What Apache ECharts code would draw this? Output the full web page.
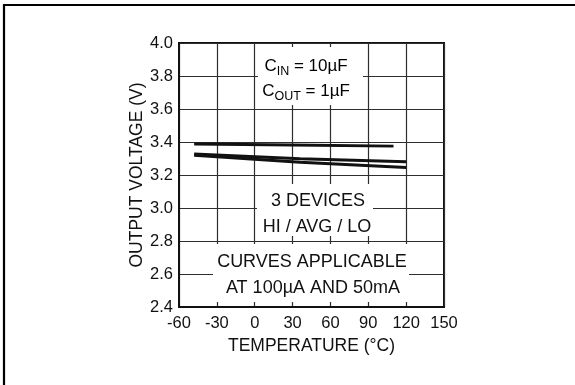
<!DOCTYPE html>
<html>
<head>
<meta charset="utf-8">
<script src="https://cdn.jsdelivr.net/npm/echarts@6/dist/echarts.min.js"></script>
<style>
html,body{margin:0;padding:0;background:#fff;overflow:hidden;}
#c{width:575px;height:385px;}
</style>
</head>
<body>
<div id="c"></div>
<script>
// Data
var xTicks = [-60, -30, 0, 30, 60, 90, 120, 150];
var yTicks = [2.4, 2.6, 2.8, 3.0, 3.2, 3.4, 3.6, 3.8, 4.0];
var hiTemp = [-48, 30, 110];
var hiVolt = [3.388, 3.382, 3.375];
var avgTemp = [-48, 36, 120];
var avgVolt = [3.328, 3.298, 3.280];
var loTemp = [-48, 36, 120];
var loVolt = [3.320, 3.278, 3.246];

function pairs(xs, ys) { return xs.map(function (x, i) { return [x, ys[i]]; }); }

var FONT = '"Liberation Sans", Arial, sans-serif';
var TXT = '#111';

var chart = echarts.init(document.getElementById('c'), null, {renderer: 'canvas'});
var lineStyle = {color: '#111', width: 3};

var option = {
  animation: false,
  backgroundColor: '#fff',
  grid: {left: 179, top: 43, right: 131, bottom: 78, show: true, borderColor: '#111', borderWidth: 2, backgroundColor: 'transparent'},
  xAxis: {
    type: 'value', min: xTicks[0], max: xTicks[xTicks.length - 1], interval: 30,
    name: 'TEMPERATURE (°C)', nameLocation: 'middle', nameGap: 26,
    nameTextStyle: {fontFamily: FONT, fontSize: 17.5, color: TXT},
    axisLine: {show: true, onZero: false, lineStyle: {color: '#111', width: 2}},
    axisTick: {show: false},
    axisLabel: {fontFamily: FONT, fontSize: 16.5, color: TXT, margin: 8},
    splitLine: {show: true, lineStyle: {color: '#2e2e2e', width: 1.2}}
  },
  yAxis: {
    type: 'value', min: yTicks[0], max: yTicks[yTicks.length - 1], interval: 0.2,
    name: 'OUTPUT VOLTAGE (V)', nameLocation: 'middle', nameGap: 31, nameRotate: 90,
    nameTextStyle: {fontFamily: FONT, fontSize: 17.5, color: TXT},
    axisLine: {show: true, onZero: false, lineStyle: {color: '#111', width: 2}},
    axisTick: {show: false},
    axisLabel: {fontFamily: FONT, fontSize: 16.5, color: TXT, margin: 6, formatter: function (v) { return v.toFixed(1); }},
    splitLine: {show: true, lineStyle: {color: '#2e2e2e', width: 1.2}}
  },
  series: [
    {name: 'HI', type: 'line', data: pairs(hiTemp, hiVolt), showSymbol: false, symbol: 'none', lineStyle: lineStyle, z: 20},
    {name: 'AVG', type: 'line', data: pairs(avgTemp, avgVolt), showSymbol: false, symbol: 'none', lineStyle: lineStyle, z: 20},
    {name: 'LO', type: 'line', data: pairs(loTemp, loVolt), showSymbol: false, symbol: 'none', lineStyle: lineStyle, z: 20}
  ],
  graphic: [
    // outer figure frame (right and bottom edges lie outside the picture)
    {type: 'rect', z: 1, shape: {x: 4, y: 5, width: 700, height: 500}, style: {fill: null, stroke: '#000', lineWidth: 2.2}},
    // annotation backgrounds
    {type: 'rect', z: 10, shape: {x: 258, y: 47, width: 105, height: 58}, style: {fill: '#fff'}},
    {type: 'rect', z: 10, shape: {x: 257, y: 184, width: 116, height: 52}, style: {fill: '#fff'}},
    {type: 'rect', z: 10, shape: {x: 213, y: 244, width: 196, height: 58}, style: {fill: '#fff'}},
    // annotation texts
    {type: 'text', z: 11, x: 306, y: 66, style: {
      text: '{a|C}{s|IN}{a| = 10µF}', align: 'center', verticalAlign: 'middle',
      rich: {a: {fontFamily: FONT, fontSize: 17, color: TXT, lineHeight: 17, verticalAlign: 'top'},
             s: {fontFamily: FONT, fontSize: 12.5, color: TXT, lineHeight: 12, padding: [8, 0, 0, 0], verticalAlign: 'top'}}}},
    {type: 'text', z: 11, x: 306, y: 91, style: {
      text: '{a|C}{s|OUT}{a| = 1µF}', align: 'center', verticalAlign: 'middle',
      rich: {a: {fontFamily: FONT, fontSize: 17, color: TXT, lineHeight: 17, verticalAlign: 'top'},
             s: {fontFamily: FONT, fontSize: 12.5, color: TXT, lineHeight: 12, padding: [8, 0, 0, 0], verticalAlign: 'top'}}}},
    {type: 'text', z: 11, x: 318, y: 201, style: {text: '3 DEVICES', align: 'center', verticalAlign: 'middle', font: '18px ' + FONT, fill: TXT}},
    {type: 'text', z: 11, x: 317, y: 227, style: {text: 'HI / AVG / LO', align: 'center', verticalAlign: 'middle', font: '18px ' + FONT, fill: TXT}},
    {type: 'text', z: 11, x: 312, y: 262, style: {text: 'CURVES APPLICABLE', align: 'center', verticalAlign: 'middle', font: '18px ' + FONT, fill: TXT}},
    {type: 'text', z: 11, x: 313, y: 288, style: {text: 'AT 100µA AND 50mA', align: 'center', verticalAlign: 'middle', font: '18px ' + FONT, fill: TXT}}
  ]
};
chart.setOption(option);
</script>
</body>
</html>
